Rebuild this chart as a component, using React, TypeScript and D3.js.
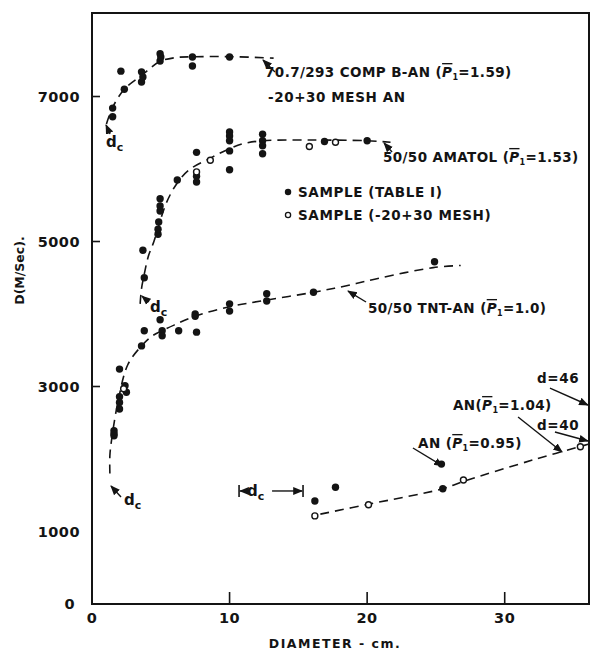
import React, { useEffect } from "react";
import * as d3 from "d3";

type Pt = [number, number];

// diameter (cm) vs detonation velocity D (m/sec)

// 70.7/293 Comp B-AN, -20+30 mesh AN
const compBSolid: Pt[] = [
  [1.5, 6840], [1.5, 6720], [2.1, 7350], [2.35, 7100], [3.6, 7340], [3.6, 7200],
  [3.7, 7270], [4.95, 7590], [4.95, 7490], [5.0, 7545], [7.3, 7545], [7.3, 7420],
  [10, 7545],
];
const compBCurve: Pt[] = [
  [1.05, 6620], [1.5, 6850], [2.35, 7100], [3.6, 7290], [4.9, 7480], [6, 7535],
  [7.3, 7548], [10, 7550], [13.2, 7530],
];

// 50/50 amatol
const amatolSolid: Pt[] = [
  [3.8, 4500], [3.7, 4880], [4.8, 5100], [4.8, 5170], [4.85, 5270], [4.95, 5420],
  [4.95, 5490], [4.95, 5590], [6.2, 5850], [7.6, 6230], [7.6, 5900], [7.6, 5820],
  [10, 6510], [10, 6455], [10, 6390], [10, 6250], [10, 5990], [12.4, 6480],
  [12.4, 6390], [12.4, 6320], [12.4, 6210], [16.9, 6380], [20, 6390],
];
const amatolOpen: Pt[] = [[7.6, 5960], [8.6, 6120], [15.8, 6310], [17.7, 6370]];
const amatolCurve: Pt[] = [
  [3.5, 4140], [3.6, 4350], [3.8, 4550], [4.1, 4800], [4.5, 5000], [4.9, 5250],
  [5.4, 5530], [6.1, 5780], [7.0, 5980], [8.6, 6150], [10, 6280], [11, 6350],
  [12.4, 6390], [16, 6400], [20, 6390], [21.7, 6370],
];

// 50/50 TNT-AN
const tntSolid: Pt[] = [
  [1.6, 2390], [1.6, 2320], [1.6, 2350], [2.0, 2860], [2.0, 2690], [2.0, 2780],
  [2.0, 3240], [2.5, 2920], [2.4, 3010], [3.6, 3560], [3.8, 3770], [4.95, 3920],
  [5.1, 3770], [5.1, 3700], [6.3, 3770], [7.6, 3750], [7.5, 4000], [7.5, 3970],
  [10, 4140], [10, 4040], [12.7, 4280], [12.7, 4180], [16.1, 4300], [24.9, 4720],
];
const tntOpen: Pt[] = [[2.3, 2970]];
const tntCurve: Pt[] = [
  [1.3, 1800], [1.3, 2050], [1.45, 2300], [1.9, 2800], [2.6, 3300], [3.6, 3560],
  [4.4, 3700], [5.1, 3770], [6, 3850], [7.5, 3970], [10, 4100], [12.6, 4190],
  [16.1, 4300], [18.5, 4390], [21, 4500], [24.8, 4640], [26.8, 4670],
];

// AN
const anSolid: Pt[] = [[16.2, 1420], [17.7, 1610], [25.5, 1590], [25.4, 1930]];
const anOpen: Pt[] = [[16.2, 1215], [20.1, 1370], [27, 1710], [35.5, 2170]];
const anCurve: Pt[] = [
  [16.6, 1240], [20.2, 1380], [25.5, 1590], [27, 1690], [32.1, 1990], [36.2, 2210],
];
// d=46 and d=40 shots, just past the right edge
const offScale: Pt[] = [[36.4, 2790], [36.4, 2300]];

const xTicks = [0, 10, 20, 30];
const yTickLabels = [0, 1000, 3000, 5000, 7000];
const yTickMarks = [3000, 5000, 7000];

const rhoLabels = [
  { pre: "70.7/293 COMP B-AN (", post: "=1.59)", at: [12.58, 7269] as Pt },
  { pre: "50/50 AMATOL (", post: "=1.53)", at: [21.15, 6097] as Pt },
  { pre: "50/50 TNT-AN (", post: "=1.0)", at: [20.06, 4014] as Pt },
  { pre: "AN(", post: "=1.04)", at: [26.24, 2676] as Pt },
  { pre: "AN (", post: "=0.95)", at: [23.7, 2152] as Pt },
];
const plainLabels = [
  { text: "-20+30 MESH AN", at: [12.79, 6924] as Pt },
  { text: "d=46", at: [32.35, 3048] as Pt },
  { text: "d=40", at: [32.35, 2400] as Pt },
];
const legendItems = [
  { text: "SAMPLE (TABLE I)", open: false, at: [14.25, 5683] as Pt },
  { text: "SAMPLE (-20+30 MESH)", open: true, at: [14.25, 5366] as Pt },
];
const arrows: [Pt, Pt][] = [
  [[13.3, 7338], [12.43, 7503]],
  [[21.81, 6234], [21.23, 6359]],
  [[19.92, 4166], [18.61, 4317]],
  [[30.97, 2579], [34.17, 2097]],
  [[33.65, 2372], [36.05, 2248]],
  [[33.29, 2979], [36.05, 2745]],
  [[23.33, 2152], [25.51, 1903]],
  // critical diameter pointers
  [[1.31, 6483], [1.02, 6607]],
  [[4.14, 4166], [3.63, 4248]],
  [[2.11, 1476], [1.38, 1628]],
];
const dcLabels: Pt[] = [[1.02, 6303], [4.22, 4028], [2.33, 1366]];
const anDcBracket = { left: 10.69, right: 15.34, y: 1559 };

const width = 592;
const height = 659;
const margin = { top: 13, left: 92, bottom: 55, right: 2 };

const App = () => {
  useEffect(() => {
    document.body.style.margin = "0";
  }, []);

  const x = d3.scaleLinear().domain([0, 36.2]).range([margin.left, width - margin.right]);
  const y = d3.scaleLinear().domain([0, 8152]).range([height - margin.bottom, margin.top]);

  const line = d3
    .line<Pt>()
    .x((d) => x(d[0]))
    .y((d) => y(d[1]))
    .curve(d3.curveCatmullRom.alpha(0.5));

  const ink = "#141414";
  const font = "'DejaVu Sans', sans-serif";
  const x0 = x(0);
  const x1 = x(36.2);
  const yb = y(0);
  const yt = y(8152);

  const dot = (d: Pt, i: number, open: boolean) => (
    <circle
      key={(open ? "o" : "s") + i}
      cx={x(d[0])}
      cy={y(d[1])}
      r={open ? 3 : 3.7}
      fill={open ? "#fff" : ink}
      stroke={ink}
      strokeWidth={open ? 1.4 : 0}
    />
  );

  const curves = [compBCurve, amatolCurve, tntCurve, anCurve];
  const solids = [...compBSolid, ...amatolSolid, ...tntSolid, ...anSolid];
  const opens = [...amatolOpen, ...tntOpen, ...anOpen];

  return (
    <svg width={width} height={height} style={{ display: "block", background: "#fff" }}>
      <defs>
        <marker id="head" viewBox="0 0 10 10" refX="9" refY="5" markerWidth="7" markerHeight="7" orient="auto">
          <path d="M0,1 L10,5 L0,9 Z" fill={ink} />
        </marker>
        <clipPath id="plot">
          <rect x={x0} y={yt} width={x1 - x0} height={yb - yt} />
        </clipPath>
      </defs>

      {/* frame */}
      <rect x={x0} y={yt} width={x1 - x0 - 1} height={yb - yt} fill="none" stroke={ink} strokeWidth={2} />

      {yTickMarks.map((v) => (
        <line key={"yt" + v} x1={x0} x2={x0 + 8} y1={y(v)} y2={y(v)} stroke={ink} strokeWidth={1.6} />
      ))}
      {xTicks.slice(1).map((v) => (
        <line key={"xt" + v} x1={x(v)} x2={x(v)} y1={yb} y2={yb - 12} stroke={ink} strokeWidth={1.6} />
      ))}

      <g fontFamily={font} fontWeight="bold" fontSize={14.5} fill={ink}>
        {yTickLabels.map((v) => (
          <text key={"yl" + v} x={v === 0 ? x0 - 17 : x0 - 12} y={y(v) + 5} textAnchor="end" letterSpacing={0.5}>
            {v}
          </text>
        ))}
        {xTicks.map((v) => (
          <text key={"xl" + v} x={x(v)} y={yb + 19} textAnchor="middle" letterSpacing={0.5}>
            {v}
          </text>
        ))}
      </g>

      <text
        transform={`translate(24,${y(4600)}) rotate(-90)`}
        textAnchor="middle"
        fontFamily={font}
        fontWeight="bold"
        fontSize={12.5}
        fill={ink}
      >
        D(M/Sec).
      </text>
      <text x={335} y={648} textAnchor="middle" fontFamily={font} fontWeight="bold" fontSize={12.5} letterSpacing={1.5} fill={ink}>
        DIAMETER - cm.
      </text>

      <g clipPath="url(#plot)">
        {curves.map((c, i) => (
          <path key={"c" + i} d={line(c) || ""} fill="none" stroke={ink} strokeWidth={1.6} strokeDasharray="9,6" />
        ))}
        {solids.map((d, i) => dot(d, i, false))}
        {opens.map((d, i) => dot(d, i, true))}
        {offScale.map((d, i) => dot(d, i + 100, false))}
      </g>

      {arrows.map(([a, b], i) => (
        <line
          key={"a" + i}
          x1={x(a[0])}
          y1={y(a[1])}
          x2={x(b[0])}
          y2={y(b[1])}
          stroke={ink}
          strokeWidth={1.4}
          markerEnd="url(#head)"
        />
      ))}

      <g fontFamily={font} fontWeight="bold" fontSize={13.5} fill={ink}>
        {rhoLabels.map((l, i) => (
          <text key={"r" + i} x={x(l.at[0])} y={y(l.at[1])} letterSpacing={0.4}>
            {l.pre}
            <tspan fontStyle="italic" style={{ textDecoration: "overline" }}>
              P
            </tspan>
            <tspan fontSize={8} dy={3}>
              1
            </tspan>
            <tspan dy={-3}>{l.post}</tspan>
          </text>
        ))}
        {plainLabels.map((l, i) => (
          <text key={"p" + i} x={x(l.at[0])} y={y(l.at[1])} letterSpacing={0.6}>
            {l.text}
          </text>
        ))}
        {legendItems.map((l, i) => (
          <g key={"lg" + i}>
            <circle
              cx={x(l.at[0])}
              cy={y(l.at[1])}
              r={l.open ? 2.6 : 3.2}
              fill={l.open ? "#fff" : ink}
              stroke={ink}
              strokeWidth={l.open ? 1.3 : 0}
            />
            <text x={x(l.at[0]) + 10} y={y(l.at[1]) + 5} letterSpacing={0.6}>
              {l.text}
            </text>
          </g>
        ))}
        {dcLabels.map((d, i) => (
          <text key={"dc" + i} x={x(d[0])} y={y(d[1])} fontSize={15}>
            d<tspan fontSize={11} dy={4}>c</tspan>
          </text>
        ))}
        <text x={x(anDcBracket.left) + 8} y={y(anDcBracket.y) + 5} fontSize={15}>
          d<tspan fontSize={11} dy={4}>c</tspan>
        </text>
      </g>

      {/* critical diameter bracket for AN */}
      <line
        x1={x(anDcBracket.left)}
        x2={x(anDcBracket.left)}
        y1={y(anDcBracket.y) - 6}
        y2={y(anDcBracket.y) + 6}
        stroke={ink}
        strokeWidth={1.6}
      />
      <line
        x1={x(anDcBracket.left) + 7}
        x2={x(anDcBracket.left) + 1}
        y1={y(anDcBracket.y)}
        y2={y(anDcBracket.y)}
        stroke={ink}
        strokeWidth={1.4}
        markerEnd="url(#head)"
      />
      <line
        x1={x(anDcBracket.right)}
        x2={x(anDcBracket.right)}
        y1={y(anDcBracket.y) - 6}
        y2={y(anDcBracket.y) + 6}
        stroke={ink}
        strokeWidth={1.6}
      />
      <line
        x1={x(anDcBracket.left) + 33}
        x2={x(anDcBracket.right) - 1}
        y1={y(anDcBracket.y)}
        y2={y(anDcBracket.y)}
        stroke={ink}
        strokeWidth={1.4}
        markerEnd="url(#head)"
      />
    </svg>
  );
};

export default App;
